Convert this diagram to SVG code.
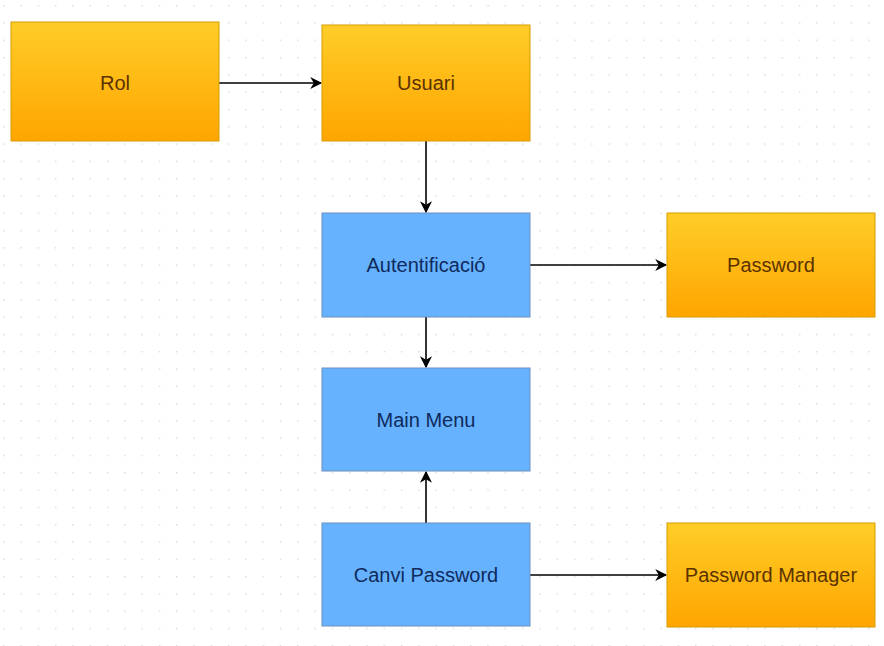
<svg xmlns="http://www.w3.org/2000/svg" width="884" height="646" viewBox="0 0 884 646">
  <defs>
    <pattern id="grid" x="3" y="5" width="17.3" height="17.3" patternUnits="userSpaceOnUse">
      <rect x="0" y="0" width="1.4" height="1.4" fill="#d8d8d8"/>
    </pattern>
    <linearGradient id="orange" x1="0" y1="0" x2="0" y2="1">
      <stop offset="0" stop-color="#ffcd28"/>
      <stop offset="1" stop-color="#ffa500"/>
    </linearGradient>
    <marker id="arrow" viewBox="0 0 10 10" refX="9" refY="5" markerWidth="14" markerHeight="12" markerUnits="userSpaceOnUse" orient="auto">
      <path d="M0,0 L10,5 L0,10 L3,5 Z" fill="#000"/>
    </marker>
    <style>
      .orange rect { fill: url(#orange); stroke: #d79b00; stroke-width: 1; }
      .blue rect { fill: #66b2ff; stroke: #6c8ebf; stroke-width: 1; }
      text { font-family: "Liberation Sans", Arial, sans-serif; font-size: 20px; text-anchor: middle; }
      .orange text { fill: #5a3200; }
      .blue text { fill: #0f2a5c; }
      .edge { stroke: #000; stroke-width: 1.6; fill: none; marker-end: url(#arrow); }
    </style>
  </defs>
  <rect width="884" height="646" fill="#ffffff"/>
  <rect width="884" height="646" fill="url(#grid)"/>

  <g id="connectors">
    <line class="edge" x1="219" y1="83" x2="321" y2="83"/>
    <line class="edge" x1="426" y1="141" x2="426" y2="212"/>
    <line class="edge" x1="530" y1="265" x2="666" y2="265"/>
    <line class="edge" x1="426" y1="317" x2="426" y2="367"/>
    <line class="edge" x1="426" y1="523" x2="426" y2="472"/>
    <line class="edge" x1="530" y1="575" x2="666" y2="575"/>
  </g>

  <g id="rol" class="orange">
    <rect x="11" y="22" width="208" height="119"/>
    <text x="115" y="90">Rol</text>
  </g>
  <g id="usuari" class="orange">
    <rect x="322" y="25" width="208" height="116"/>
    <text x="426" y="90">Usuari</text>
  </g>
  <g id="autentificacio" class="blue">
    <rect x="322" y="213" width="208" height="104"/>
    <text x="426" y="272">Autentificació</text>
  </g>
  <g id="password" class="orange">
    <rect x="667" y="213" width="208" height="104"/>
    <text x="771" y="272">Password</text>
  </g>
  <g id="main-menu" class="blue">
    <rect x="322" y="368" width="208" height="103"/>
    <text x="426" y="427">Main Menu</text>
  </g>
  <g id="canvi-password" class="blue">
    <rect x="322" y="523" width="208" height="103"/>
    <text x="426" y="582">Canvi Password</text>
  </g>
  <g id="password-manager" class="orange">
    <rect x="667" y="523" width="208" height="104"/>
    <text x="771" y="582">Password Manager</text>
  </g>
</svg>
